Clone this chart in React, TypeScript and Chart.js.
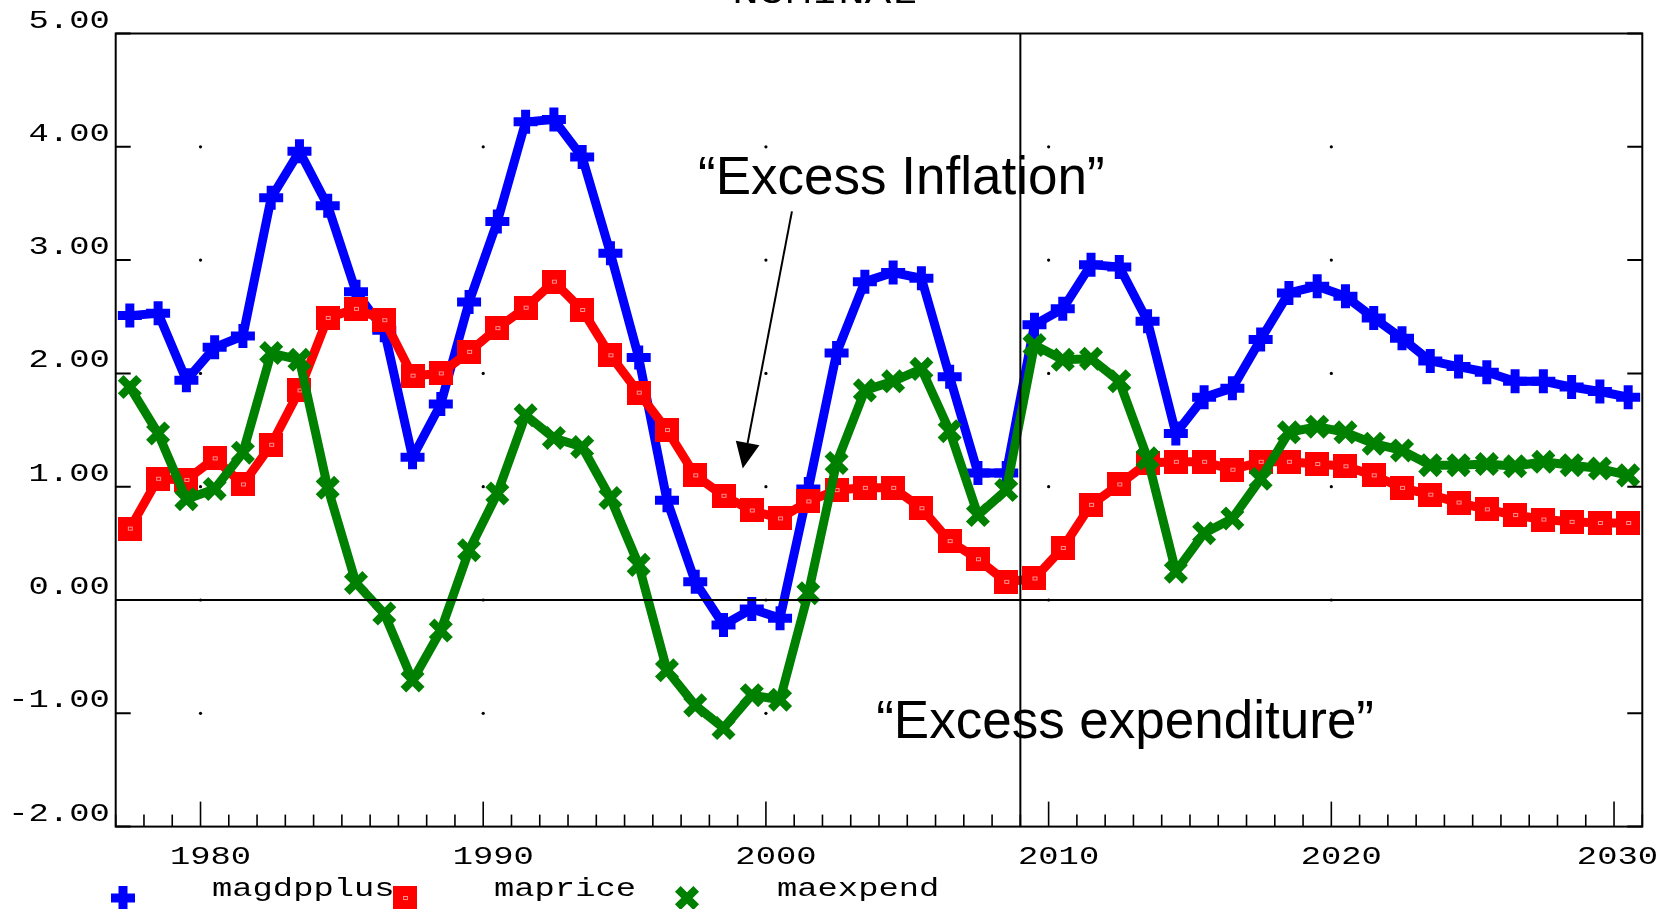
import React, { useEffect, useRef } from "react";
import { Chart, registerables } from "chart.js";

Chart.register(...registerables);

// ---------------- data ----------------
const years = [
  1977, 1978, 1979, 1980, 1981, 1982, 1983, 1984, 1985, 1986,
  1987, 1988, 1989, 1990, 1991, 1992, 1993, 1994, 1995, 1996,
  1997, 1998, 1999, 2000, 2001, 2002, 2003, 2004, 2005, 2006,
  2007, 2008, 2009, 2010, 2011, 2012, 2013, 2014, 2015, 2016,
  2017, 2018, 2019, 2020, 2021, 2022, 2023, 2024, 2025, 2026,
  2027, 2028, 2029, 2030,
];

const magdpplus = [
  2.51, 2.53, 1.94, 2.23, 2.33, 3.55, 3.96, 3.48, 2.72, 2.38,
  1.26, 1.73, 2.63, 3.34, 4.22, 4.24, 3.91, 3.06, 2.14, 0.88,
  0.16, -0.22, -0.08, -0.16, 0.98, 2.18, 2.81, 2.89, 2.84, 1.97,
  1.12, 1.12, 2.43, 2.57, 2.96, 2.94, 2.46, 1.47, 1.79, 1.87,
  2.3, 2.71, 2.77, 2.68, 2.49, 2.31, 2.11, 2.06, 2.01, 1.93,
  1.93, 1.88, 1.84, 1.79,
];

const maprice = [
  0.63, 1.07, 1.06, 1.25, 1.02, 1.37, 1.85, 2.49, 2.57, 2.47,
  1.98, 2.0, 2.19, 2.4, 2.58, 2.81, 2.56, 2.16, 1.83, 1.5,
  1.1, 0.92, 0.79, 0.72, 0.87, 0.97, 0.99, 0.99, 0.81, 0.52,
  0.36, 0.16, 0.19, 0.46, 0.84, 1.02, 1.21, 1.22, 1.22, 1.15,
  1.22, 1.22, 1.2, 1.18, 1.1, 0.99, 0.93, 0.86, 0.8, 0.75,
  0.71, 0.69, 0.68, 0.68,
];

const maexpend = [
  1.88, 1.47, 0.89, 0.98, 1.3, 2.18, 2.12, 0.99, 0.15, -0.12,
  -0.71, -0.27, 0.44, 0.94, 1.63, 1.43, 1.35, 0.9, 0.31, -0.62,
  -0.93, -1.13, -0.84, -0.88, 0.06, 1.21, 1.85, 1.93, 2.04, 1.49,
  0.75, 0.97, 2.25, 2.12, 2.13, 1.93, 1.25, 0.25, 0.59, 0.72,
  1.07, 1.48, 1.53, 1.48, 1.38, 1.32, 1.19, 1.19, 1.2, 1.18,
  1.22, 1.19, 1.16, 1.1,
];

const seriesNames = ["magdpplus", "maprice", "maexpend"];
const seriesColors = ["#0000ff", "#ff0000", "#008000"];

const yTickValues = [5, 4, 3, 2, 1, 0, -1, -2];
const yTickLabels = ["5.00", "4.00", "3.00", "2.00", "1.00", "0.00", "-1.00", "-2.00"];
const xLabelYears = [1980, 1990, 2000, 2010, 2020, 2030];
const xLabelTexts = ["1980", "1990", "2000", "2010", "2020", "2030"];
const gridDotYears = [1980, 1990, 2000, 2010, 2020];
const gridDotValues = [4, 3, 2, 1, 0, -1];
const forecastStartYear = 2009;
const titleText = "NOMINAL";
const annotationInflation = "\u201CExcess Inflation\u201D";
const annotationExpenditure = "\u201CExcess expenditure\u201D";

// annotation anchors in data coordinates (year, value)
const inflationTextAt = [1997.6, 3.58];
const expenditureTextAt = [2003.9, -1.22];
const arrowFrom = [2000.92, 3.43];
const arrowTo = [1999.18, 1.16];

// ---------------- helpers ----------------
const MONO = '26px "Liberation Mono", "DejaVu Sans Mono", monospace';
const MONO_STRETCH = 1.3;

function monoText(ctx: CanvasRenderingContext2D, text: string, x: number, y: number, align: CanvasTextAlign, font = MONO) {
  ctx.save();
  ctx.font = font;
  ctx.fillStyle = "#000";
  ctx.textBaseline = "alphabetic";
  ctx.textAlign = align;
  ctx.translate(x, y);
  ctx.scale(MONO_STRETCH, 1);
  ctx.fillText(text, 0, 0);
  ctx.restore();
}

function makeSquareMarker(): HTMLCanvasElement {
  const c = document.createElement("canvas");
  c.width = 24;
  c.height = 24;
  const g = c.getContext("2d")!;
  g.fillStyle = "#ff0000";
  g.fillRect(0, 0, 24, 24);
  g.strokeStyle = "#ff9090";
  g.lineWidth = 1;
  g.strokeRect(10.5, 10.5, 4, 3);
  return c;
}

function drawPlus(ctx: CanvasRenderingContext2D, x: number, y: number, r: number, w: number, color: string) {
  ctx.save();
  ctx.strokeStyle = color;
  ctx.lineWidth = w;
  ctx.beginPath();
  ctx.moveTo(x - r, y);
  ctx.lineTo(x + r, y);
  ctx.moveTo(x, y - r);
  ctx.lineTo(x, y + r);
  ctx.stroke();
  ctx.restore();
}

function drawX(ctx: CanvasRenderingContext2D, x: number, y: number, r: number, w: number, color: string) {
  const d = r * Math.SQRT1_2;
  ctx.save();
  ctx.strokeStyle = color;
  ctx.lineWidth = w;
  ctx.beginPath();
  ctx.moveTo(x - d, y - d);
  ctx.lineTo(x + d, y + d);
  ctx.moveTo(x - d, y + d);
  ctx.lineTo(x + d, y - d);
  ctx.stroke();
  ctx.restore();
}

const squareMarker = makeSquareMarker();

const decorPlugin = {
  id: "decor",
  beforeDatasetsDraw(chart: any) {
    const ctx: CanvasRenderingContext2D = chart.ctx;
    const xs = chart.scales.x;
    const ys = chart.scales.y;
    ctx.save();
    ctx.fillStyle = "#000";
    for (const yr of gridDotYears) {
      for (const v of gridDotValues) {
        ctx.beginPath();
        ctx.arc(xs.getPixelForValue(yr), ys.getPixelForValue(v), 1.6, 0, Math.PI * 2);
        ctx.fill();
      }
    }
    ctx.restore();
  },
  afterDatasetsDraw(chart: any) {
    const ctx: CanvasRenderingContext2D = chart.ctx;
    const xs = chart.scales.x;
    const ys = chart.scales.y;
    const a = chart.chartArea;

    ctx.save();
    ctx.strokeStyle = "#000";
    ctx.lineWidth = 2;
    // frame
    ctx.strokeRect(a.left, a.top, a.right - a.left, a.bottom - a.top);
    // zero line
    const y0 = ys.getPixelForValue(0);
    ctx.beginPath();
    ctx.moveTo(a.left, y0);
    ctx.lineTo(a.right, y0);
    ctx.stroke();
    // forecast start line
    const xf = xs.getPixelForValue(forecastStartYear);
    ctx.beginPath();
    ctx.moveTo(xf, a.top);
    ctx.lineTo(xf, a.bottom);
    ctx.stroke();
    // y ticks (both sides)
    for (const v of yTickValues) {
      const py = ys.getPixelForValue(v);
      ctx.beginPath();
      ctx.moveTo(a.left, py);
      ctx.lineTo(a.left + 15, py);
      ctx.moveTo(a.right, py);
      ctx.lineTo(a.right - 15, py);
      ctx.stroke();
    }
    // x ticks
    ctx.lineWidth = 1.6;
    for (let yr = Math.ceil(xs.min); yr <= Math.floor(xs.max); yr++) {
      const px = xs.getPixelForValue(yr);
      const len = yr % 10 === 0 ? 25 : 12;
      ctx.beginPath();
      ctx.moveTo(px, a.bottom);
      ctx.lineTo(px, a.bottom - len);
      ctx.stroke();
    }
    ctx.restore();

    // y labels
    yTickValues.forEach((v, i) => {
      monoText(ctx, yTickLabels[i], a.left - 6, ys.getPixelForValue(v) - 6, "right");
    });
    // x labels
    xLabelYears.forEach((yr, i) => {
      ctx.save();
      ctx.font = MONO;
      const half = (ctx.measureText(xLabelTexts[i]).width * MONO_STRETCH) / 2;
      ctx.restore();
      let cx = xs.getPixelForValue(yr) + 10;
      cx = Math.min(cx, chart.width - 20 - half);
      monoText(ctx, xLabelTexts[i], cx, a.bottom + 37, "center");
    });

    // title (cut off at top)
    monoText(ctx, titleText, 825, 3, "center", '34px "Liberation Mono", monospace');

    // annotations
    ctx.save();
    ctx.fillStyle = "#000";
    ctx.font = '53px "Liberation Sans", Arial, sans-serif';
    ctx.textAlign = "left";
    ctx.textBaseline = "alphabetic";
    ctx.fillText(annotationInflation, xs.getPixelForValue(inflationTextAt[0]), ys.getPixelForValue(inflationTextAt[1]));
    ctx.fillText(annotationExpenditure, xs.getPixelForValue(expenditureTextAt[0]), ys.getPixelForValue(expenditureTextAt[1]));

    const x1 = xs.getPixelForValue(arrowFrom[0]);
    const y1 = ys.getPixelForValue(arrowFrom[1]);
    const x2 = xs.getPixelForValue(arrowTo[0]);
    const y2 = ys.getPixelForValue(arrowTo[1]);
    const ang = Math.atan2(y2 - y1, x2 - x1);
    const headLen = 26;
    const headHalf = 12;
    const bx = x2 - headLen * Math.cos(ang);
    const by = y2 - headLen * Math.sin(ang);
    ctx.strokeStyle = "#000";
    ctx.lineWidth = 2;
    ctx.beginPath();
    ctx.moveTo(x1, y1);
    ctx.lineTo(bx, by);
    ctx.stroke();
    ctx.beginPath();
    ctx.moveTo(x2, y2);
    ctx.lineTo(bx + headHalf * Math.sin(ang), by - headHalf * Math.cos(ang));
    ctx.lineTo(bx - headHalf * Math.sin(ang), by + headHalf * Math.cos(ang));
    ctx.closePath();
    ctx.fill();
    ctx.restore();

    // legend
    const ly = 898;
    const markerXs = [123, 405, 687];
    const textXs = [212, 494, 777];
    drawPlus(ctx, markerXs[0], ly, 12, 9, seriesColors[0]);
    ctx.drawImage(squareMarker, markerXs[1] - 12, ly - 12);
    drawX(ctx, markerXs[2], ly, 13, 8, seriesColors[2]);
    seriesNames.forEach((n, i) => monoText(ctx, n, textXs[i], 896, "left"));
  },
};

const toPoints = (vals: number[]) => years.map((yr, i) => ({ x: yr + 0.5, y: vals[i] }));

export default function App() {
  const ref = useRef<HTMLCanvasElement | null>(null);

  useEffect(() => {
    const canvas = ref.current!;
    const chart = new Chart(canvas, {
      type: "line",
      data: {
        datasets: [
          {
            label: seriesNames[0],
            data: toPoints(magdpplus),
            borderColor: seriesColors[0],
            backgroundColor: seriesColors[0],
            borderWidth: 9,
            borderJoinStyle: "round",
            pointStyle: "cross",
            pointRadius: 12,
            pointBorderWidth: 9,
            pointBorderColor: seriesColors[0],
            order: 2,
            clip: false,
          } as any,
          {
            label: seriesNames[1],
            data: toPoints(maprice),
            borderColor: seriesColors[1],
            backgroundColor: seriesColors[1],
            borderWidth: 9,
            borderJoinStyle: "round",
            pointStyle: squareMarker,
            pointRadius: 12,
            order: 1,
            clip: false,
          } as any,
          {
            label: seriesNames[2],
            data: toPoints(maexpend),
            borderColor: seriesColors[2],
            backgroundColor: seriesColors[2],
            borderWidth: 9,
            borderJoinStyle: "round",
            pointStyle: "crossRot",
            pointRadius: 13,
            pointBorderWidth: 8,
            pointBorderColor: seriesColors[2],
            order: 0,
            clip: false,
          } as any,
        ],
      },
      options: {
        animation: false,
        responsive: false,
        maintainAspectRatio: false,
        events: [],
        layout: { padding: { left: 115.7, top: 33.5, right: 35.7, bottom: 82.4 } },
        plugins: {
          legend: { display: false },
          tooltip: { enabled: false },
          title: { display: false },
        },
        scales: {
          x: { type: "linear", min: 1977, max: 2031, display: false },
          y: { type: "linear", min: -2, max: 5, display: false },
        },
      },
      plugins: [decorPlugin as any],
    });
    return () => chart.destroy();
  }, []);

  return (
    <div style={{ position: "fixed", left: 0, top: 0, width: 1678, height: 909, background: "#fff" }}>
      <canvas ref={ref} width={1678} height={909} style={{ display: "block" }} />
    </div>
  );
}
